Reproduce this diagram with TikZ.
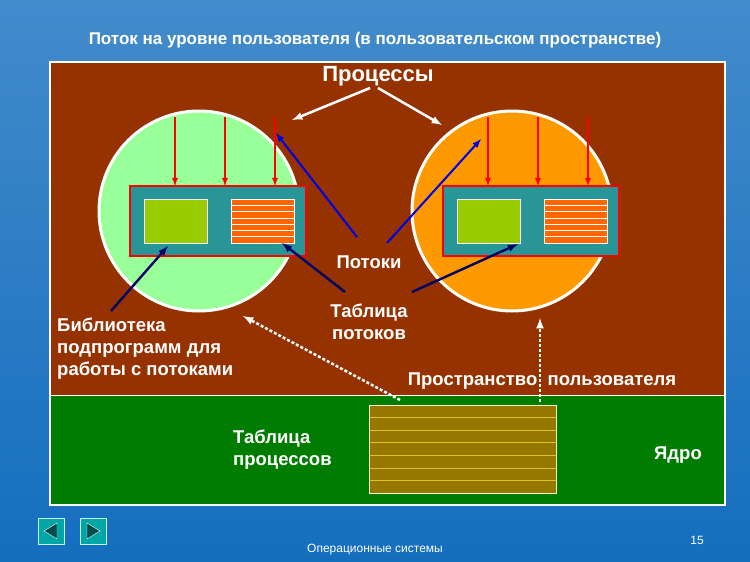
\documentclass[tikz,border=0pt]{standalone}
\usepackage{fontspec}
\setmainfont{Liberation Sans}
\begin{document}
\begin{tikzpicture}[x=1pt,y=-1pt,
 lbl/.style={text=white,font=\bfseries\fontsize{18.5}{22}\selectfont,align=left},
 red/.style={draw=red,line width=1.8pt,-latex},
 blu/.style={draw=blue!90!black,line width=2pt,-latex},
 nav/.style={draw=blue!40!black,line width=2.4pt,-latex},
 wht/.style={draw=white,line width=2.5pt,-latex},
 dsh/.style={draw=white,line width=2.5pt,dash pattern=on 3pt off 2pt,-latex}]
\definecolor{bg}{RGB}{20,110,190}
\definecolor{brownb}{RGB}{150,50,0}
\definecolor{greenb}{RGB}{0,125,0}
\definecolor{lgreen}{RGB}{153,255,153}
\definecolor{orng}{RGB}{255,153,0}
\definecolor{teal2}{RGB}{40,150,150}
\definecolor{olive2}{RGB}{150,120,0}
\definecolor{ygreen}{RGB}{153,204,0}
\shade[top color=bg!80!white,bottom color=bg] (0,0) rectangle (750,562);
\useasboundingbox (0,0) rectangle (750,562);
\node[text=white,font=\bfseries\fontsize{17}{20}\selectfont] (title) at (375,40) {Поток на уровне пользователя (в пользовательском пространстве)};
\fill[brownb] (50,62) rectangle (725,395);
\fill[greenb] (50,395) rectangle (725,505);
\draw[white,line width=2pt] (50,62) rectangle (725,505);
\draw[white,line width=0.8pt] (50,395) -- (725,395);
% circles
\node[circle,fill=lgreen,draw=white,line width=3pt,minimum size=200pt] (c1) at (199,211) {};
\node[circle,fill=orng,draw=white,line width=3pt,minimum size=200pt] (c2) at (512,211) {};
\foreach \o in {0,313}{
 \begin{scope}[xshift=\o pt]
 \fill[teal2,draw=red,line width=2.5pt] (130,186) rectangle (306,256);
 \fill[ygreen,draw=white] (144,199) rectangle (207,243);
 \fill[orange!80!red] (231,199) rectangle (294,243);
 \foreach \y in {205.3,211.6,217.9,224.1,230.4,236.7} \draw[white,line width=0.8pt] (231,\y)--(294,\y);
 \draw[white] (231,199) rectangle (294,243);
 \foreach \x in {175,225,275} \draw[red] (\x,117) -- (\x,186);
 \end{scope}}
\node[lbl,font=\bfseries\fontsize{22}{26}\selectfont] (proc) at (378,76) {Процессы};
\draw[wht] (370,88) -- (292,120);
\draw[wht] (378,88) -- (442,125);
\node[lbl] (thr) at (369,262) {Потоки};
\draw[blu] (357,237) -- (276,133);
\draw[blu] (387,243) -- (481,139);
\node[lbl,align=center] (tt) at (369,322) {Таблица\\потоков};
\draw[nav] (345,292) -- (282,243);
\draw[nav] (412,292) -- (518,244);
\node[lbl,anchor=north west,inner sep=0pt] (lib) at (57,318) {Библиотека\\подпрограмм для\\работы с потоками};
\draw[nav] (111,311) -- (168,246);
\node[lbl] (us) at (542,381) {Пространство\ \ пользователя};
% kernel
\fill[olive2] (369,405) rectangle (556,493);
\foreach \y in {417.6,430.1,442.7,455.3,467.9,480.4} \draw[yellow!60!olive2,line width=0.8pt] (369,\y)--(556,\y);
\draw[white!80!yellow] (369,405) rectangle (556,493);
\draw[dsh] (400,400) -- (243,316);
\draw[dsh] (540,402) -- (540,318);
\node[lbl,anchor=north west,inner sep=0pt] (pt) at (233,430) {Таблица\\процессов};
\node[lbl] (core) at (678,455) {Ядро};
% nav buttons
\foreach \x/\d in {38/1,80/-1}{
 \fill[teal!70!cyan,draw=white!80!cyan,line width=1pt] (\x,518) rectangle (\x+26,544);
 \fill[teal!60!black] (\x+13-7*\d,531) -- (\x+13+6*\d,523) -- (\x+13+6*\d,539) -- cycle;
 \draw[white] (\x+13-7*\d,531) -- (\x+13+6*\d,523) -- (\x+13+6*\d,539) -- cycle;
}
\node[text=white,font=\fontsize{12}{14}\selectfont] (pg) at (697,540) {15};
\node[text=white,font=\fontsize{12}{14}\selectfont] (os) at (375,550) {Операционные системы};
\end{tikzpicture}
\end{document}
